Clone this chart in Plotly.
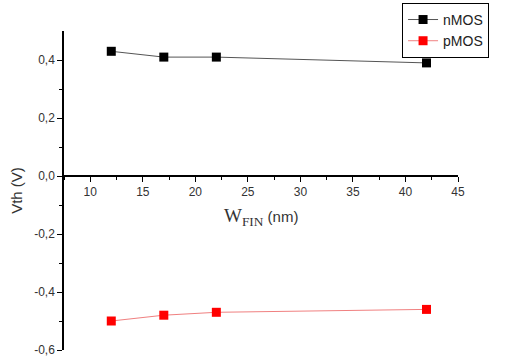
import plotly.graph_objects as go

w_fin = [12, 17, 22, 42]
vth_nmos = [0.43, 0.41, 0.41, 0.39]
vth_pmos = [-0.50, -0.48, -0.47, -0.46]

x_ticks = [10, 15, 20, 25, 30, 35, 40, 45]
y_tickvals = [-0.6, -0.4, -0.2, 0.0, 0.2, 0.4]
y_ticktext = ["-0,6", "-0,4", "-0,2", "0,0", "0,2", "0,4"]

fig = go.Figure()
fig.add_trace(go.Scatter(
    x=w_fin, y=vth_nmos, name="nMOS", mode="lines+markers",
    line=dict(color="#555555", width=1),
    marker=dict(symbol="square", size=9, color="black"),
))
fig.add_trace(go.Scatter(
    x=w_fin, y=vth_pmos, name="pMOS", mode="lines+markers",
    line=dict(color="#f08080", width=1),
    marker=dict(symbol="square", size=9, color="red"),
))

y0 = -0.6
y1 = 0.5
zero_pos = (0 - y0) / (y1 - y0)

fig.update_layout(
    width=515, height=358,
    margin=dict(l=64, r=57, t=31, b=8, autoexpand=False),
    paper_bgcolor="white", plot_bgcolor="white",
    font=dict(family="Arial, Liberation Sans, sans-serif", color="#333333", size=13),
    showlegend=True,
    legend=dict(
        x=0.858, xref="paper", y=1.088, yref="paper", xanchor="left", yanchor="top",
        bordercolor="black", borderwidth=1, bgcolor="white",
        font=dict(size=14, color="#222222"),
        itemwidth=30, tracegroupgap=0,
        entrywidth=75, entrywidthmode="pixels",
    ),
    xaxis=dict(
        range=[7.5, 45], anchor="free", position=zero_pos,
        showline=True, linecolor="black", linewidth=1.5,
        tickvals=x_ticks, ticks="outside", ticklen=5, tickwidth=1, tickcolor="black",
        minor=dict(dtick=2.5, tick0=7.5, ticks="outside", ticklen=3, tickcolor="black"),
        showgrid=False, zeroline=False,
        tickfont=dict(size=12),
    ),
    yaxis=dict(
        range=[y0, y1],
        showline=True, linecolor="black", linewidth=1.5,
        tickvals=y_tickvals, ticktext=y_ticktext,
        ticks="outside", ticklen=5, tickwidth=1, tickcolor="black",
        minor=dict(tickvals=[-0.5, -0.3, -0.1, 0.1, 0.3], ticks="outside", ticklen=3, tickcolor="black"),
        showgrid=False, zeroline=False,
        tickfont=dict(size=12),
        title=dict(text="Vth (V)", font=dict(size=15, color="#333333"), standoff=8),
    ),
    annotations=[dict(
        x=0.5, xref="paper", y=zero_pos, yref="paper", yshift=-41,
        xanchor="center", yanchor="middle", showarrow=False,
        text='<span style="font-family:Liberation Serif, Times New Roman, serif; font-size:19px">W<sub>FIN</sub></span> (nm)',
        font=dict(size=15, color="#333333"),
    )],
)

fig.write_html("out.html", config={"displayModeBar": False},
               post_script="document.body.style.margin='0';")
